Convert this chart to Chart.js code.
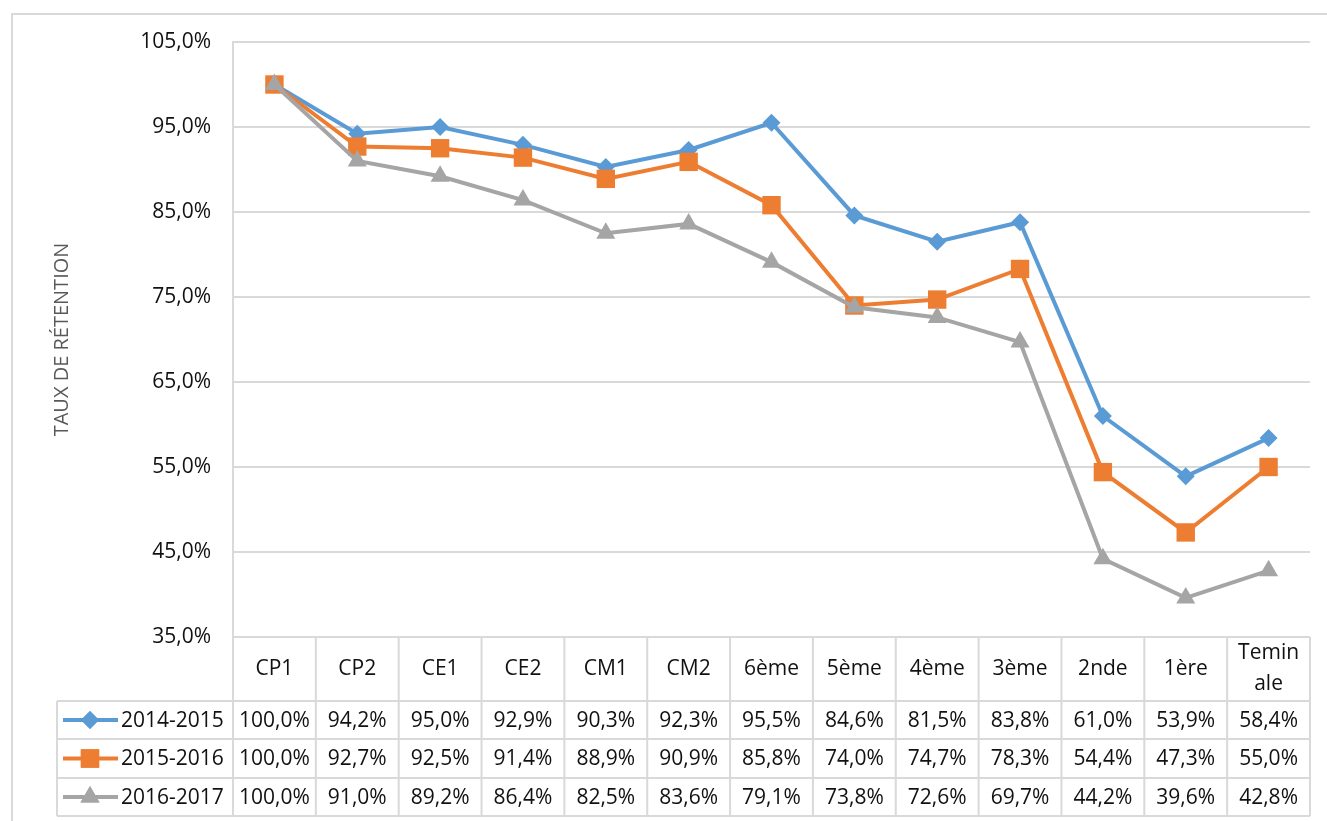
<!DOCTYPE html>
<html>
<head>
<meta charset="utf-8">
<title>Taux de rétention</title>
<script src="https://cdn.jsdelivr.net/npm/chart.js@4.4.1/dist/chart.umd.min.js"></script>
<style>
  html, body { margin: 0; padding: 0; background: #fff; }
  #wrap { width: 1327px; height: 821px; }
</style>
</head>
<body>
<div id="wrap"><canvas id="retention" width="1327" height="821"></canvas></div>
<script>
// Niveaux scolaires (header row of the data table)
const categories = ['CP1', 'CP2', 'CE1', 'CE2', 'CM1', 'CM2', '6ème', '5ème', '4ème', '3ème', '2nde', '1ère', 'Teminale'];
const headerLines = [['CP1'], ['CP2'], ['CE1'], ['CE2'], ['CM1'], ['CM2'], ['6ème'], ['5ème'], ['4ème'], ['3ème'], ['2nde'], ['1ère'], ['Temin', 'ale']];

const seriesNames = ['2014-2015', '2015-2016', '2016-2017'];
const values20142015 = [100.0, 94.2, 95.0, 92.9, 90.3, 92.3, 95.5, 84.6, 81.5, 83.8, 61.0, 53.9, 58.4];
const values20152016 = [100.0, 92.7, 92.5, 91.4, 88.9, 90.9, 85.8, 74.0, 74.7, 78.3, 54.4, 47.3, 55.0];
const values20162017 = [100.0, 91.0, 89.2, 86.4, 82.5, 83.6, 79.1, 73.8, 72.6, 69.7, 44.2, 39.6, 42.8];

const yTicks = [35, 45, 55, 65, 75, 85, 95, 105];
const yTitle = 'TAUX DE RÉTENTION';

const FONT = '"Open Sans", "Noto Sans", sans-serif';
const COLORS = { blue: '#5B9BD5', orange: '#ED7D31', gray: '#A5A5A5', grid: '#D9D9D9', text: '#111111', title: '#595959' };

const pct = v => v.toFixed(1).replace('.', ',') + '%';

// row boundaries of the data table under the plot
const TABLE = { legendLeft: 57, rows: [701, 739, 778, 816] };

const tablePlugin = {
  id: 'tablePlugin',
  beforeDraw(chart) {
    const ctx = chart.ctx;
    ctx.save();
    ctx.strokeStyle = COLORS.grid;
    ctx.lineWidth = 2;
    ctx.strokeRect(12, 14, 1330, 820);
    ctx.restore();
  },
  afterDraw(chart) {
    const ctx = chart.ctx;
    const area = chart.chartArea;
    const xs = chart.scales.x;
    const n = categories.length;
    const colW = (area.right - area.left) / n;
    const top = area.bottom;
    const rows = TABLE.rows;
    const last = rows[rows.length - 1];

    ctx.save();
    // axis title
    ctx.fillStyle = COLORS.title;
    ctx.font = '20px ' + FONT;
    ctx.textAlign = 'center';
    ctx.textBaseline = 'middle';
    ctx.translate(62, (area.top + area.bottom) / 2);
    ctx.rotate(-Math.PI / 2);
    ctx.fillText(yTitle, 0, 0);
    ctx.restore();

    ctx.save();
    ctx.strokeStyle = COLORS.grid;
    ctx.lineWidth = 2;
    ctx.beginPath();
    // horizontal rules
    ctx.moveTo(area.left, top); ctx.lineTo(area.right, top);
    rows.forEach(y => { ctx.moveTo(TABLE.legendLeft, y); ctx.lineTo(area.right, y); });
    // vertical rules
    for (let i = 0; i <= n; i++) {
      const x = area.left + i * colW;
      ctx.moveTo(x, top); ctx.lineTo(x, last);
    }
    ctx.moveTo(TABLE.legendLeft, rows[0]); ctx.lineTo(TABLE.legendLeft, last);
    ctx.stroke();

    ctx.fillStyle = COLORS.text;
    ctx.font = '21px ' + FONT;
    ctx.textAlign = 'center';
    ctx.textBaseline = 'middle';
    // header row
    headerLines.forEach((lines, i) => {
      const cx = xs.getPixelForValue(i);
      const cy = (top + rows[0]) / 2;
      const lh = 31;
      lines.forEach((t, k) => ctx.fillText(t, cx, cy + (k - (lines.length - 1) / 2) * lh));
    });

    // series rows with legend keys
    chart.data.datasets.forEach((ds, r) => {
      const cy = (rows[r] + rows[r + 1]) / 2;
      ds.data.forEach((v, i) => {
        ctx.fillStyle = COLORS.text;
        ctx.textAlign = 'center';
        ctx.fillText(pct(v), xs.getPixelForValue(i), cy + 1);
      });
      ctx.strokeStyle = ds.borderColor;
      ctx.lineWidth = 4;
      ctx.beginPath();
      ctx.moveTo(63, cy); ctx.lineTo(118, cy);
      ctx.stroke();
      ctx.fillStyle = ds.borderColor;
      Chart.helpers.drawPoint(ctx, { pointStyle: ds.pointStyle, radius: ds.pointRadius, borderWidth: 0, rotation: 0 }, 90, cy);
      ctx.fill();
      ctx.fillStyle = COLORS.text;
      ctx.textAlign = 'left';
      ctx.fillText(seriesNames[r], 121, cy + 1);
    });
    ctx.restore();
  }
};

function series(label, data, color, style, radius, order) {
  return {
    label, data, order,
    borderColor: color,
    backgroundColor: color,
    borderWidth: 4,
    pointStyle: style,
    pointRadius: radius,
    pointHoverRadius: radius,
    pointBorderWidth: 0,
    pointBackgroundColor: color,
    tension: 0
  };
}

new Chart(document.getElementById('retention'), {
  type: 'line',
  data: {
    labels: categories,
    datasets: [
      series(seriesNames[0], values20142015, COLORS.blue, 'rectRot', 9, 3),
      series(seriesNames[1], values20152016, COLORS.orange, 'rect', 13, 2),
      series(seriesNames[2], values20162017, COLORS.gray, 'triangle', 11, 1)
    ]
  },
  options: {
    responsive: false,
    animation: false,
    layout: { padding: { top: 42, left: 0, right: 17, bottom: 184 } },
    plugins: { legend: { display: false }, tooltip: { enabled: false } },
    scales: {
      x: { display: false, offset: true },
      y: {
        min: 35, max: 105,
        afterFit(scale) { scale.width = 233; },
        afterBuildTicks(scale) { scale.ticks = yTicks.map(v => ({ value: v })); },
        grid: { color: COLORS.grid, lineWidth: 2, drawTicks: false },
        border: { color: COLORS.grid, width: 2 },
        ticks: {
          padding: 22,
          color: COLORS.text,
          font: { family: FONT, size: 21 },
          callback: v => pct(v)
        }
      }
    }
  },
  plugins: [tablePlugin]
});
</script>
</body>
</html>
